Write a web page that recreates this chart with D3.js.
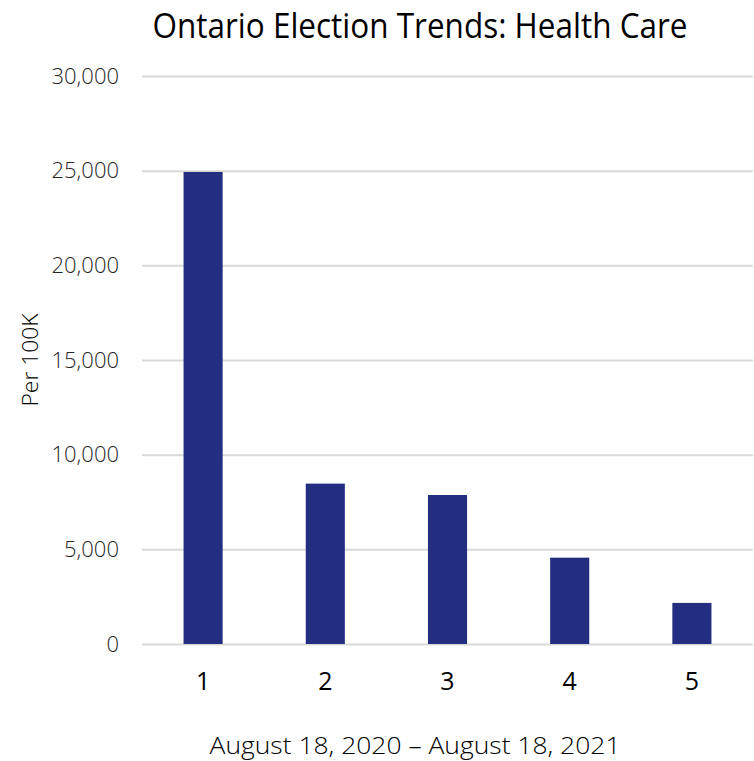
<!DOCTYPE html>
<html>
<head>
<meta charset="utf-8">
<script src="https://cdn.jsdelivr.net/npm/d3@7"></script>
<style>
    body { margin: 0; background: #fff; }
    .grid line { stroke: #d9d9d9; stroke-width: 2px; }
    .grid .domain { display: none; }
    .yAxis text { font-family: 'Open Sans', sans-serif; font-weight: 300; font-size: 22px; fill: #262626; }
    .xAxis text { font-family: 'Open Sans', sans-serif; font-weight: 400; font-size: 25px; fill: #000; }
    .chartTitle { font-family: 'Open Sans', sans-serif; font-weight: 400; font-size: 35px; fill: #000; }
    .axisTitle { font-family: 'Open Sans', sans-serif; font-weight: 300; fill: #000; }
    .bar { fill: #242e80; }
</style>
</head>
<body>
<div id="chart1"></div>
<script>
'use strict';

// Data
const categories = ['1', '2', '3', '4', '5'];
const perHundredK = [24930, 8470, 7870, 4560, 2170];
const yTicks = [0, 5000, 10000, 15000, 20000, 25000, 30000];

/*
Class: BarChart
*/
class BarChart {

    constructor(_cats, _vals, _parent) {
        // Fields
        this.cats = _cats;
        this.vals = _vals;
        this.parent = _parent;

        // Initialize
        this.initVis();
    }

    initVis() {
        const vis = this;

        // Config svg
        vis.w = 754;
        vis.h = 761;

        vis.svg = d3.select(`#${vis.parent}`)
            .append('svg')
            .attr('width', vis.w)
            .attr('height', vis.h);

        // Plot area
        vis.left = 142;
        vis.right = 753;
        vis.top = 76;
        vis.bottom = 644;

        // Scales
        vis.x = d3.scaleBand()
            .domain(vis.cats)
            .range([vis.left, vis.right])
            .paddingInner(0.68)
            .paddingOuter(0.34);

        vis.y = d3.scaleLinear()
            .domain([0, 30000])
            .range([vis.bottom, vis.top]);

        vis.updateVis();
    }

    updateVis() {
        const vis = this;

        // Gridlines
        vis.svg.append('g')
            .attr('class', 'grid')
            .attr('transform', `translate(${vis.left},0)`)
            .call(d3.axisLeft(vis.y)
                .tickValues(yTicks)
                .tickSize(-(vis.right - vis.left))
                .tickFormat(''));

        // Y axis labels
        vis.svg.append('g')
            .attr('class', 'yAxis')
            .attr('transform', `translate(${vis.left - 23},0)`)
            .call(d3.axisLeft(vis.y)
                .tickValues(yTicks)
                .tickSize(0)
                .tickPadding(0)
                .tickFormat(d3.format(',')))
            .call(g => g.select('.domain').remove());

        // Bars
        vis.svg.selectAll('.bar')
            .data(vis.vals)
            .join('rect')
            .attr('class', 'bar')
            .attr('x', (d, i) => vis.x(vis.cats[i]))
            .attr('y', d => vis.y(d))
            .attr('width', vis.x.bandwidth())
            .attr('height', d => vis.y(0) - vis.y(d));

        // X axis labels
        vis.svg.append('g')
            .attr('class', 'xAxis')
            .attr('transform', `translate(0,${vis.bottom + 28})`)
            .call(d3.axisBottom(vis.x).tickSize(0).tickPadding(0))
            .call(g => g.select('.domain').remove());

        // Title
        vis.svg.append('text')
            .attr('class', 'chartTitle')
            .attr('x', 420)
            .attr('y', 38)
            .attr('text-anchor', 'middle')
            .attr('textLength', 535)
            .attr('lengthAdjust', 'spacingAndGlyphs')
            .text('Ontario Election Trends: Health Care');

        // X axis title
        vis.svg.append('text')
            .attr('class', 'axisTitle')
            .attr('x', 415)
            .attr('y', 754)
            .attr('text-anchor', 'middle')
            .attr('font-size', '23px')
            .attr('textLength', 411)
            .attr('lengthAdjust', 'spacingAndGlyphs')
            .text('August 18, 2020 \u2013 August 18, 2021');

        // Y axis title
        vis.svg.append('text')
            .attr('class', 'axisTitle')
            .attr('transform', 'translate(38,360) rotate(-90)')
            .attr('text-anchor', 'middle')
            .attr('font-size', '22px')
            .attr('textLength', 93)
            .attr('lengthAdjust', 'spacingAndGlyphs')
            .text('Per 100K');
    }
}

new BarChart(categories, perHundredK, 'chart1');
</script>
</body>
</html>
